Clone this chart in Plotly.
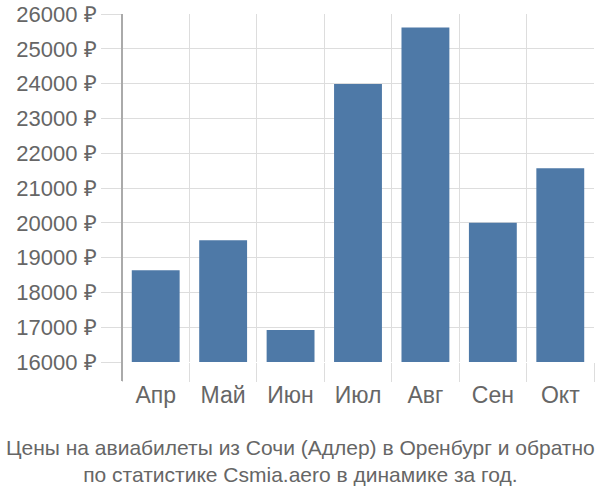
import plotly.graph_objects as go

months = ["Апр", "Май", "Июн", "Июл", "Авг", "Сен", "Окт"]
prices = [18640, 19500, 16920, 23990, 25610, 20000, 21570]
y_ticks = list(range(16000, 26001, 1000))
y_labels = [f"{v} ₽" for v in y_ticks]

base = 16000

fig = go.Figure(go.Bar(
    x=months,
    y=[p - base for p in prices],
    base=base,
    marker=dict(color="#4e79a7", line=dict(width=0)),
    hoverinfo="skip",
))

fig.update_layout(
    width=600, height=500,
    margin=dict(l=122, r=6, t=14, b=138),
    paper_bgcolor="white", plot_bgcolor="white",
    bargap=0.29,
    showlegend=False,
    font=dict(family="Liberation Sans, Arial, sans-serif", color="#666666"),
    xaxis=dict(
        type="category",
        tickson="boundaries",
        ticks="outside", ticklen=19, tickcolor="#dddddd", tickwidth=1,
        showgrid=True, gridcolor="#dddddd", gridwidth=1,
        tickfont=dict(size=23, color="#666666"),
        ticklabelstandoff=17,
        showline=False, zeroline=False,
        automargin=False,
    ),
    yaxis=dict(
        range=[16000, 26000],
        tickvals=y_ticks, ticktext=y_labels,
        ticks="outside", ticklen=20, tickcolor="#dddddd", tickwidth=1,
        showgrid=True, gridcolor="#dddddd", gridwidth=1,
        tickfont=dict(size=22, color="#666666"),
        showline=False,
        zeroline=False,
        automargin=False,
    ),
    shapes=[dict(
        type="line", xref="paper", yref="paper",
        x0=0, x1=0, y0=-(381 - 362) / 348, y1=1,
        line=dict(color="#aaaaaa", width=2),
        layer="above",
    )],
    annotations=[dict(
        text="Цены на авиабилеты из Сочи (Адлер) в Оренбург и обратно<br>по статистике Csmia.aero в динамике за год.",
        x=(300 - 122) / 472, xref="paper", y=-(461 - 362) / 348, yref="paper",
        xanchor="center", yanchor="middle", showarrow=False,
        font=dict(size=21, color="#666666"),
    )],
)

fig.write_html("out.html")
